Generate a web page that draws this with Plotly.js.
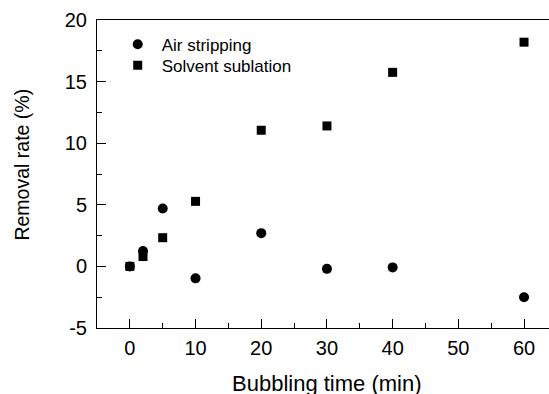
<!DOCTYPE html>
<html>
<head>
<meta charset="utf-8">
<script src="https://cdn.plot.ly/plotly-3.0.1.min.js"></script>
<style>html,body{margin:0;padding:0;background:#fff;}#chart{width:549px;height:394px;}</style>
</head>
<body>
<div id="chart"></div>
<script>
// Data
const bubblingTime = [0, 2, 5, 10, 20, 30, 40, 60];
const airStripping = [0, 1.25, 4.7, -0.97, 2.7, -0.2, -0.08, -2.5];
const solventSublation = [0, 0.8, 2.33, 5.28, 11.05, 11.4, 15.75, 18.2];
const seriesNames = ["Air stripping", "Solvent sublation"];
const xTickVals = [0, 10, 20, 30, 40, 50, 60];
const xTickText = ["0", "10", "20", "30", "40", "50", "60"];
const yTickVals = [-5, 0, 5, 10, 15, 20];
const yTickText = ["-5", "0", "5", "10", "15", "20"];
const xTitle = "Bubbling time (min)";
const yTitle = "Removal rate (%)";

const font = "Liberation Sans, Arial, sans-serif";

const traces = [
  {
    x: bubblingTime, y: airStripping, name: seriesNames[0],
    type: "scatter", mode: "markers", legend: "legend",
    marker: {symbol: "circle", size: 10, color: "#000"}
  },
  {
    x: bubblingTime, y: solventSublation, name: seriesNames[1],
    type: "scatter", mode: "markers", legend: "legend2",
    marker: {symbol: "square", size: 9, color: "#000"}
  }
];

const legendBase = {
  xanchor: "left", yanchor: "top",
  bgcolor: "rgba(0,0,0,0)", borderwidth: 0,
  font: {family: font, size: 17, color: "#000"},
  itemwidth: 38
};

const layout = {
  width: 549, height: 394,
  margin: {l: 97, r: 0, t: 20, b: 66},
  paper_bgcolor: "#fff", plot_bgcolor: "#fff",
  font: {family: font, size: 20, color: "#000"},
  showlegend: true,
  legend: Object.assign({}, legendBase, {x: 0.037, y: 0.978}),
  legend2: Object.assign({}, legendBase, {x: 0.037, y: 0.910}),
  xaxis: {
    range: [-5, 63.8],
    showgrid: false, zeroline: false,
    showline: true, linecolor: "#000", linewidth: 1, mirror: true,
    ticks: "inside", ticklen: 9, tickwidth: 1, tickcolor: "#000",
    tickmode: "array", tickvals: xTickVals, ticktext: xTickText,
    tickfont: {family: font, size: 20, color: "#000"},
    minor: {ticks: "inside", ticklen: 5, tickwidth: 1, tickcolor: "#000", dtick: 5, tick0: 0, showgrid: false},
    ticklabelstandoff: 2
  },
  yaxis: {
    range: [-5, 20],
    showgrid: false, zeroline: false,
    showline: true, linecolor: "#000", linewidth: 1, mirror: false,
    ticks: "inside", ticklen: 9, tickwidth: 1, tickcolor: "#000",
    tickmode: "array", tickvals: yTickVals, ticktext: yTickText,
    tickfont: {family: font, size: 20, color: "#000"},
    minor: {ticks: "inside", ticklen: 5, tickwidth: 1, tickcolor: "#000", dtick: 2.5, tick0: 0, showgrid: false},
    ticklabelstandoff: 5
  },
  annotations: [
    {
      text: xTitle, xref: "x", yref: "paper", x: 30, y: -0.1347,
      xanchor: "center", yanchor: "top", showarrow: false,
      font: {family: font, size: 22, color: "#000"}
    },
    {
      text: yTitle, xref: "paper", yref: "y", x: -0.165, y: 8.3,
      xanchor: "center", yanchor: "middle", showarrow: false, textangle: -90,
      font: {family: font, size: 19.5, color: "#000"}
    }
  ]
};

Plotly.newPlot("chart", traces, layout, {displayModeBar: false, staticPlot: true});
</script>
</body>
</html>
